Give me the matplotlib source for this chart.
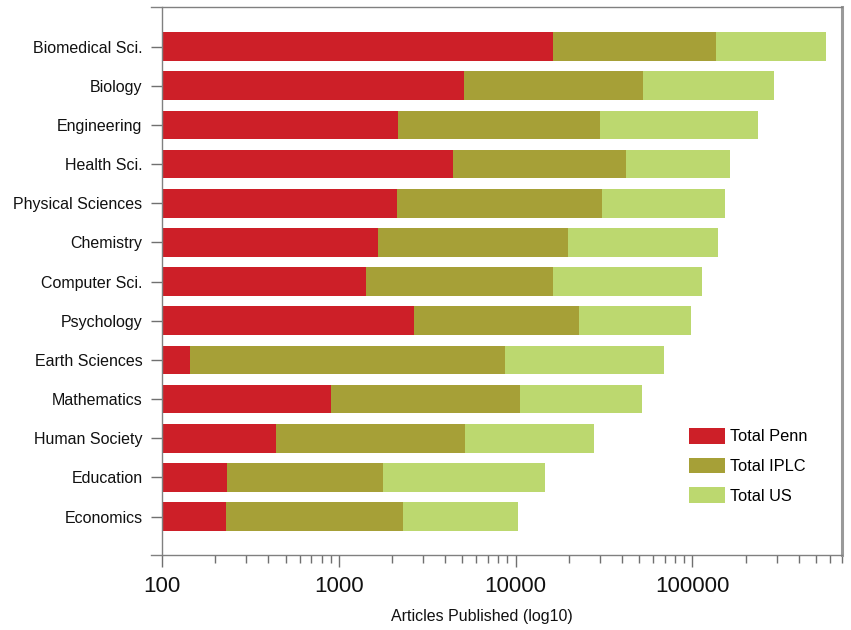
import matplotlib
matplotlib.use("Agg")
import numpy as np
import matplotlib.pyplot as plt

plt.rcParams['font.family'] = ['Liberation Sans', 'DejaVu Sans']

# data (log10 axis)
fields = ['Biomedical Sci.', 'Biology', 'Engineering', 'Health Sci.',
          'Physical Sciences', 'Chemistry', 'Computer Sci.', 'Psychology',
          'Earth Sciences', 'Mathematics', 'Human Society', 'Education',
          'Economics']
total_penn = [16300, 5140, 2160, 4440, 2140, 1660, 1430, 2680, 144, 900, 442, 232, 230]
total_iplc = [136800, 52400, 30100, 41900, 30800, 19700, 16250, 22900, 8690, 10570, 5155, 1777, 2318]
total_us = [567000, 289500, 236000, 164400, 153400, 139300, 113500, 98400, 69600, 52200, 27750, 14640, 10330]
xticks = [100, 1000, 10000, 100000]
xtick_labels = ['100', '1000', '10000', '100000']

c_penn = '#CD1F28'
c_iplc = '#A6A037'
c_us = '#BCD86F'

fig = plt.figure(figsize=(8.51, 6.3), dpi=100)
ax = fig.add_axes([162 / 851, 75 / 630, 679.7 / 851, 548 / 630])

n = len(fields)
y = np.arange(n)[::-1]   # first field on top
base = 100
h = 0.73
ax.barh(y, np.array(total_us) - base, left=base, height=h, color=c_us, label='Total US')
ax.barh(y, np.array(total_iplc) - base, left=base, height=h, color=c_iplc, label='Total IPLC')
ax.barh(y, np.array(total_penn) - base, left=base, height=h, color=c_penn, label='Total Penn')

ax.set_xscale('log')
ax.set_xlim(100, 700000)
ax.set_ylim(-0.98, n - 1 + 1.01)

ax.set_xticks(xticks)
ax.set_xticklabels(xtick_labels, fontsize=16, color='#111111')
ax.set_yticks(y)
ax.set_yticklabels(fields, fontsize=11.5, color='#111111')

ax.tick_params(axis='x', which='major', length=8.4, width=1, color='#707070', pad=7)
ax.tick_params(axis='x', which='minor', length=5.5, width=1, color='#707070')
ax.tick_params(axis='y', length=8, width=1, color='#707070', pad=6)

for s in ['left', 'bottom', 'top']:
    ax.spines[s].set_color('#808080')
    ax.spines[s].set_linewidth(1)
ax.spines['right'].set_color('#9a9a9a')
ax.spines['right'].set_linewidth(2.2)
ax.spines['top'].set_bounds(86.5, 700000)
ax.spines['bottom'].set_bounds(86.5, 700000)

ax.set_xlabel('Articles Published (log10)', fontsize=11.5, color='#111111', va='center')
ax.xaxis.set_label_coords(0.471, -0.113)

handles, labels = ax.get_legend_handles_labels()
ax.legend(handles[::-1], labels[::-1], loc='upper left',
          bbox_to_anchor=(689 / 851, 1 - 428 / 630), bbox_transform=fig.transFigure,
          frameon=False, fontsize=11.8, borderpad=0, borderaxespad=0,
          handlelength=2.2, handleheight=1.1, handletextpad=0.3, labelspacing=0.8)

fig.savefig('out.png', dpi=100)
